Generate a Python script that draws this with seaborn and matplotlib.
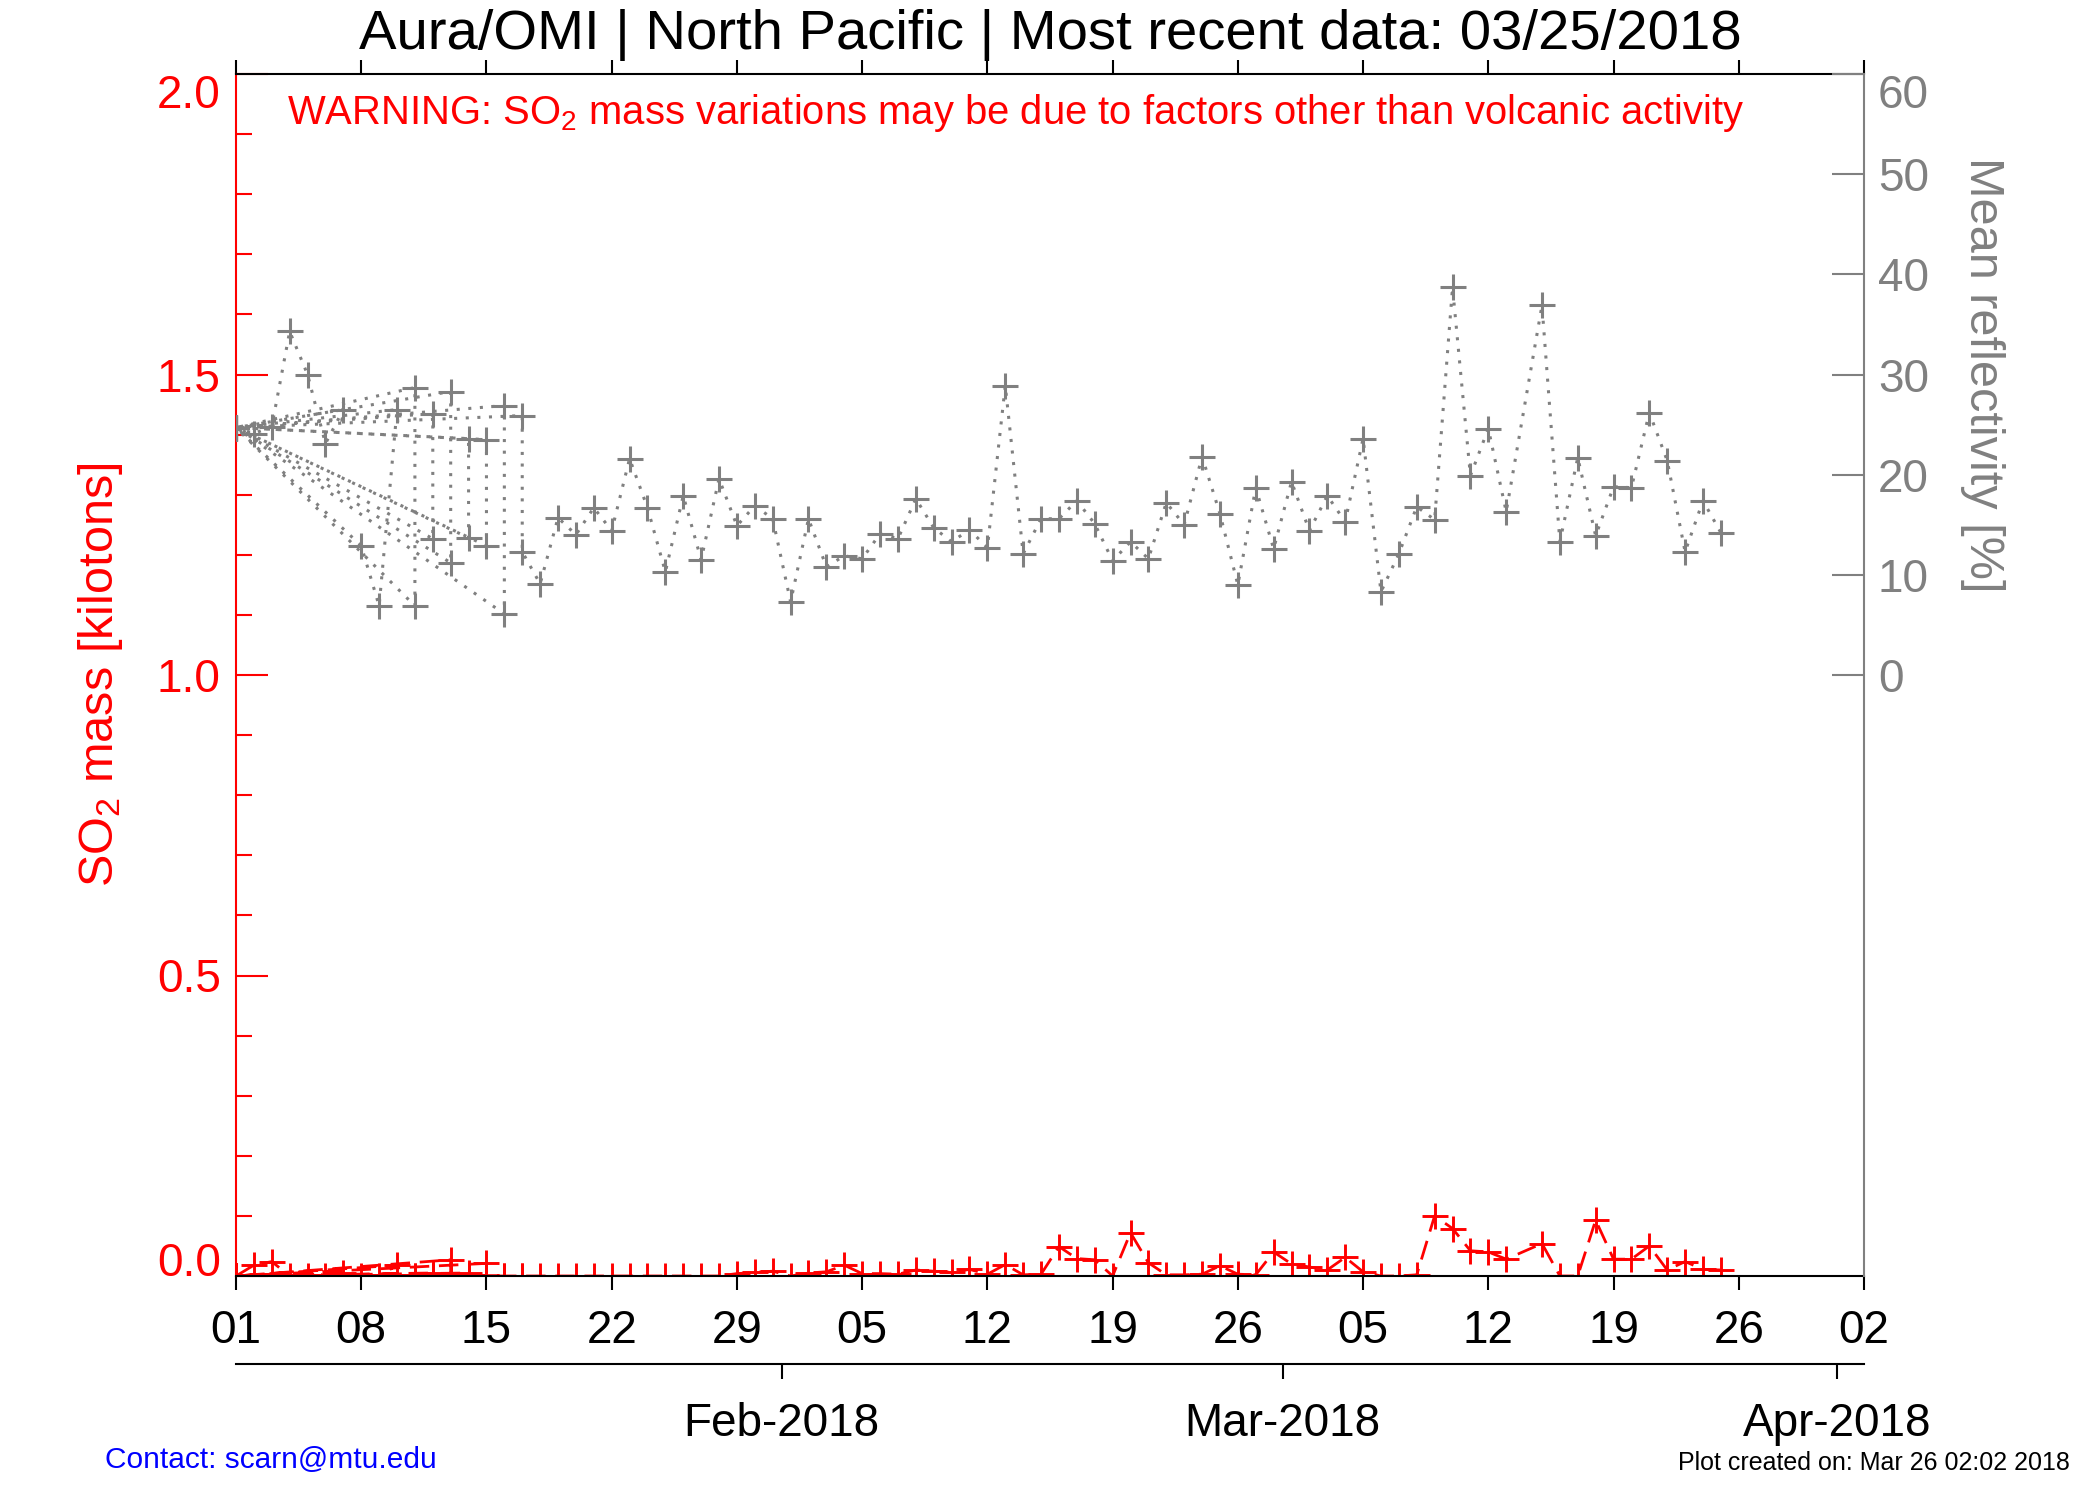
"""Aura/OMI SO2 mass + mean reflectivity, North Pacific, Jan-Mar 2018"""

import pandas as pd
import matplotlib
matplotlib.use("Agg")
import matplotlib.pyplot as plt
import matplotlib.dates as mdates
from matplotlib.ticker import MultipleLocator, NullLocator, FormatStrFormatter
import seaborn as sns


# records in the order they sit in the data file (bad records land on 01-01)
record_dates = [
    "01-01", "01-02", "01-03", "01-04", "01-05", "01-06", "01-07",
    "01-01", "01-08", "01-09", "01-10",
    "01-01", "01-11", "01-11",
    "01-01", "01-12", "01-12",
    "01-01", "01-13", "01-13",
    "01-01", "01-14", "01-14",
    "01-01", "01-15", "01-15",
    "01-01", "01-16", "01-16",
    "01-01", "01-17", "01-17",
    "01-18", "01-19", "01-20", "01-21", "01-22", "01-23", "01-24",
    "01-25", "01-26", "01-27", "01-28", "01-29", "01-30", "01-31",
    "02-01", "02-02", "02-03", "02-04", "02-05", "02-06", "02-07",
    "02-08", "02-09", "02-10", "02-11", "02-12", "02-13", "02-14",
    "02-15", "02-16", "02-17", "02-18", "02-19", "02-20", "02-21",
    "02-22", "02-23", "02-24", "02-25", "02-26", "02-27", "02-28",
    "03-01", "03-02", "03-03", "03-04", "03-05", "03-06", "03-07",
    "03-08", "03-09", "03-10", "03-11", "03-12", "03-13",
    "03-15", "03-16", "03-17", "03-18", "03-19", "03-20", "03-21",
    "03-22", "03-23", "03-24", "03-25",
]

# mean reflectivity [%]
reflectivity = [
    24.7, 24.1, 24.8, 34.3, 30.0, 23.1, 26.5,
    24.7, 12.9, 6.9, 26.5,
    24.7, 28.7, 6.9,
    24.7, 26.1, 13.6,
    24.7, 28.3, 11.2,
    24.7, 23.6, 13.7,
    24.7, 23.5, 12.9,
    24.7, 26.9, 6.1,
    24.7, 25.9, 12.3,
    9.1, 15.7, 14.0, 16.7, 14.4, 21.6, 16.7,
    10.3, 17.9, 11.5, 19.6, 14.9, 16.9, 15.6,
    7.3, 15.6, 10.8, 11.9, 11.6, 14.1, 13.6,
    17.6, 14.7, 13.3, 14.5, 12.7, 28.9, 12.1,
    15.6, 15.6, 17.4, 15.1, 11.4, 13.3, 11.6,
    17.2, 15.0, 21.8, 16.1, 9.0, 18.7, 12.6,
    19.3, 14.4, 17.9, 15.3, 23.6, 8.3, 12.1,
    16.8, 15.5, 38.7, 19.9, 24.6, 16.3,
    36.9, 13.3, 21.7, 13.9, 18.8, 18.7, 26.2,
    21.4, 12.3, 17.4, 14.2,
]

# SO2 mass [kilotons]
so2_mass = [
    0.0, 0.018, 0.024, 0.0, 0.0, 0.0, 0.005,
    0.0, 0.0, 0.0, 0.018,
    0.0, 0.0, 0.0,
    0.0, 0.005, 0.0,
    0.0, 0.027, 0.0,
    0.0, 0.005, 0.0,
    0.0, 0.021, 0.0,
    0.0, 0.0, 0.0,
    0.0, 0.0, 0.0,
    0.0, 0.0, 0.0, 0.0, 0.0, 0.0, 0.0,
    0.0, 0.0, 0.0, 0.0, 0.004, 0.006, 0.008,
    0.0, 0.005, 0.007, 0.018, 0.004, 0.004, 0.003,
    0.010, 0.008, 0.006, 0.011, 0.003, 0.019, 0.002,
    0.003, 0.049, 0.029, 0.027, 0.0, 0.072, 0.022,
    0.002, 0.002, 0.003, 0.017, 0.003, 0.002, 0.040,
    0.020, 0.015, 0.010, 0.031, 0.007, 0.0, 0.0,
    0.002, 0.100, 0.079, 0.042, 0.040, 0.028,
    0.054, 0.0, 0.0, 0.093, 0.028, 0.028, 0.050,
    0.010, 0.024, 0.011, 0.010,
]

week_ticks = pd.date_range("2018-01-01", "2018-04-02", freq="7D")
month_ticks = pd.to_datetime(["2018-02-01", "2018-03-01", "2018-04-01"])

df = pd.DataFrame({
    "date": pd.to_datetime(["2018-" + d for d in record_dates]),
    "refl": reflectivity,
    "so2": so2_mass,
})

sns.set_theme(style="white")
plt.rcParams["font.family"] = ["Liberation Sans", "DejaVu Sans"]
plt.rcParams["mathtext.default"] = "regular"

RED = "#ff0000"
GRAY = "#808080"

fig = plt.figure(figsize=(21, 15), dpi=100)
L, B, W, H = 236 / 2100, 1 - 1276 / 1500, 1628 / 2100, 1202 / 1500
ax = fig.add_axes([L, B, W, H])
ax2 = ax.twinx()

sns.lineplot(data=df, x="date", y="so2", ax=ax, sort=False, estimator=None,
             color=RED, lw=2, linestyle=(0, (7, 3.5)),
             marker="+", markersize=18.5, mew=2.1, mec=RED)
sns.lineplot(data=df, x="date", y="refl", ax=ax2, sort=False, estimator=None,
             color=GRAY, lw=2.2, linestyle=(0, (1.0, 2.8)),
             marker="+", markersize=19, mew=2.2, mec=GRAY)

x0 = mdates.date2num(pd.Timestamp("2018-01-01"))
x1 = mdates.date2num(pd.Timestamp("2018-04-02"))
ax.set_xlim(x0, x1)
ax.set_ylim(0, 2)
ax2.set_ylim(-60, 60)

# x axis: weekly ticks, top + bottom, outward
ax.set_xticks(mdates.date2num(week_ticks))
ax.xaxis.set_major_formatter(mdates.DateFormatter("%d"))
ax.tick_params(axis="x", which="major", direction="out", length=10, width=1.5,
               color="black", labelcolor="black", labelsize=33, pad=14,
               top=True, bottom=True, labeltop=False)
ax.set_xlabel("")

# left axis (red)
ax.set_yticks([0.0, 0.5, 1.0, 1.5, 2.0])
ax.yaxis.set_major_formatter(FormatStrFormatter("%.1f"))
ax.yaxis.set_minor_locator(MultipleLocator(0.1))
ax.tick_params(axis="y", which="major", direction="in", length=23, width=1.5,
               color=RED, labelcolor=RED, labelsize=33, pad=11,
               left=True, right=False)
ax.tick_params(axis="y", which="minor", direction="in", length=11.5, width=1.5,
               color=RED, left=True, right=False)
ax.set_ylabel("SO$_2$ mass [kilotons]", color=RED, fontsize=35, va="center")
ax.yaxis.set_label_coords(-0.0835, 0.5)

# right axis (gray), only 0..60 on the upper half
ax2.set_yticks([0, 10, 20, 30, 40, 50, 60])
ax2.yaxis.set_minor_locator(NullLocator())
ax2.tick_params(axis="y", which="major", direction="in", length=23, width=1.5,
                color=GRAY, labelcolor=GRAY, labelsize=33, pad=10,
                right=True, left=False)
ax2.set_ylabel("Mean reflectivity [%]", color=GRAY, fontsize=35,
               rotation=270, va="center", ha="center")
ax2.yaxis.set_label_coords(1.0725, 0.75)

for s in ax.spines.values():
    s.set_linewidth(1.5)
    s.set_color("black")
ax.spines["left"].set_color(RED)
ax.spines["right"].set_visible(False)
for k in ["left", "top", "bottom"]:
    ax2.spines[k].set_visible(False)
ax2.spines["right"].set_color(GRAY)
ax2.spines["right"].set_linewidth(1.5)

# end labels are pulled inside the frame
ax.yaxis.get_major_ticks()[0].label1.set_va("baseline")
ax.yaxis.get_major_ticks()[-1].label1.set_va("top")
ax2.yaxis.get_major_ticks()[-1].label2.set_va("top")

# month axis under the plot
axd = fig.add_axes([L, 1 - 1364 / 1500, W, 1e-5])
axd.set_xlim(x0 + 0.5, x1 + 0.5)
axd.set_xticks(mdates.date2num(month_ticks))
axd.xaxis.set_major_formatter(mdates.DateFormatter("%b-%Y"))
axd.set_yticks([])
axd.patch.set_visible(False)
for k in ["left", "right", "top"]:
    axd.spines[k].set_visible(False)
axd.spines["bottom"].set_linewidth(1.5)
axd.spines["bottom"].set_color("black")
axd.tick_params(axis="x", direction="out", length=11, width=1.5, color="black",
                labelcolor="black", labelsize=33, pad=16, bottom=True, top=False)

fig.text(0.5, 1 - 35 / 1500,
         "Aura/OMI | North Pacific | Most recent data: 03/25/2018",
         ha="center", va="center", fontsize=40.5, color="black")
fig.text(1016 / 2100, 1 - 113 / 1500,
         "WARNING: SO$_2$ mass variations may be due to factors other than volcanic activity",
         ha="center", va="center", fontsize=28.8, color=RED)
fig.text(105 / 2100, 1 - 1460 / 1500, "Contact: scarn@mtu.edu",
         ha="left", va="center", fontsize=21.5, color="#0000ff")
fig.text(2070 / 2100, 1 - 1463 / 1500, "Plot created on: Mar 26 02:02 2018",
         ha="right", va="center", fontsize=18, color="black")

fig.savefig("out.png", dpi=100)
